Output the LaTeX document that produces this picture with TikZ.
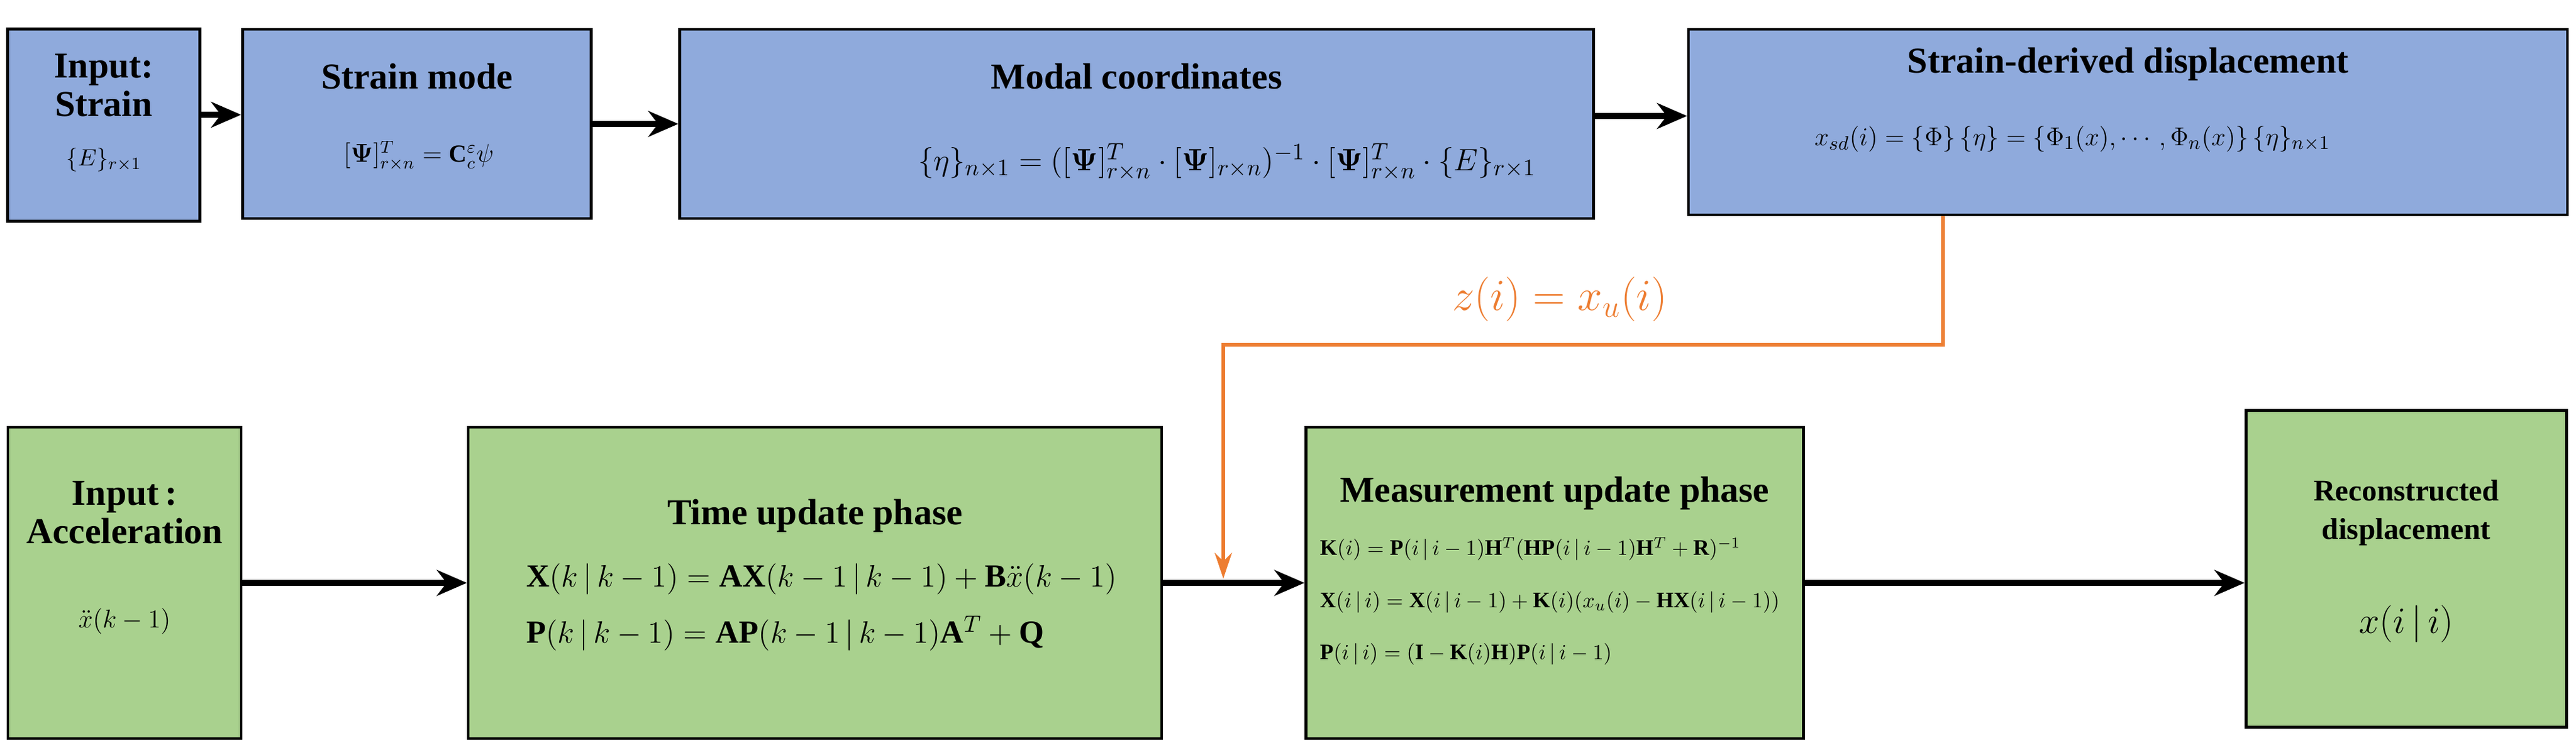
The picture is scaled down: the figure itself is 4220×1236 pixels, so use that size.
\documentclass[tikz,border=0pt]{standalone}
\usepackage{amsmath,bm}
\usepackage{fontspec}
\setmainfont{Liberation Serif}
\usetikzlibrary{arrows.meta}
\definecolor{bluef}{HTML}{8FAADC}
\definecolor{greenf}{HTML}{A9D18E}
\definecolor{orng}{HTML}{ED7D31}
\newcommand{\fs}[1]{\fontsize{#1}{#1}\selectfont}
\begin{document}
\begin{tikzpicture}[x=0.01cm,y=-0.01cm,
  box/.style={draw=black,line width=1.3pt,align=center,inner sep=0pt},
  bbox/.style={box,fill=bluef},
  gbox/.style={box,fill=greenf},
  ttl/.style={font=\bfseries\fontsize{17}{20}\selectfont,align=center},
  arr/.style={-{Stealth[length=14pt,width=12pt]},line width=2.6pt},
  oarr/.style={-{Stealth[length=12pt,width=8pt]},line width=1.6pt,draw=orng}]
\useasboundingbox (0,0) rectangle (4220,1236);
% top row
\node[bbox,minimum width=3.15cm,minimum height=3.15cm] (b1) at (170,205) {};
\node[ttl] (t1) at (170,140) {Input:\\[-2pt]Strain};
\node[font=\fs{11}] (m1) at (170,262) {$\{E\}_{r\times 1}$};
\node[bbox,minimum width=5.71cm,minimum height=3.10cm] (b2) at (683,203) {};
\node[ttl] (t2) at (683,125) {Strain mode};
\node[font=\fs{11.5}] (m2) at (686,255) {$[\boldsymbol{\Psi}]^{T}_{r\times n}=\mathbf{C}^{\varepsilon}_{c}\psi$};
\node[bbox,minimum width=14.96cm,minimum height=3.10cm] (b3) at (1862,203) {};
\node[ttl] (t3) at (1862,125) {Modal coordinates};
\node[font=\fs{15.5}] (m3) at (2010,265) {$\{\eta\}_{n\times1}=([\boldsymbol{\Psi}]^{T}_{r\times n}\cdot[\boldsymbol{\Psi}]_{r\times n})^{-1}\cdot[\boldsymbol{\Psi}]^{T}_{r\times n}\cdot\{E\}_{r\times1}$};
\node[bbox,minimum width=14.39cm,minimum height=3.04cm] (b4) at (3486,200) {};
\node[ttl] (t4) at (3486,105) {Strain-derived displacement};
\node[font=\fs{12.5}] (m4) at (3395,228) {$x_{sd}(i)=\{\Phi\}\,\{\eta\}=\{\Phi_1(x),\cdots,\Phi_n(x)\}\,\{\eta\}_{n\times1}$};
\draw[arr] (b1.east |- 0,188) -- (b2.west |- 0,188);
\draw[arr] (b2) -- (b3);
\draw[arr] (b3.east |- 0,190) -- (b4.west |- 0,190);
% bottom row
\node[gbox,minimum width=3.82cm,minimum height=5.10cm] (g1) at (204,955) {};
\node[ttl] (t5) at (204,840) {Input\,:\\[-2pt]Acceleration};
\node[font=\fs{11.5}] (m5) at (204,1018) {$\ddot{x}(k-1)$};
\node[gbox,minimum width=11.35cm,minimum height=5.10cm] (g2) at (1335,955) {};
\node[ttl] (t6) at (1335,845) {Time update phase};
\node[align=left,anchor=west,font=\fs{15}] (m6) at (850,995) {$\mathbf{X}(k\,|\,k-1)=\mathbf{A}\mathbf{X}(k-1\,|\,k-1)+\mathbf{B}\ddot{x}(k-1)$\\[9pt]$\mathbf{P}(k\,|\,k-1)=\mathbf{A}\mathbf{P}(k-1\,|\,k-1)\mathbf{A}^{T}+\mathbf{Q}$};
\node[gbox,minimum width=8.15cm,minimum height=5.10cm] (g3) at (2547,955) {};
\node[ttl] (t7) at (2547,808) {Measurement update phase};
\node[align=left,anchor=west,font=\fs{10.3}] (m7) at (2150,985) {$\mathbf{K}(i)=\mathbf{P}(i\,|\,i-1)\mathbf{H}^{T}(\mathbf{H}\mathbf{P}(i\,|\,i-1)\mathbf{H}^{T}+\mathbf{R})^{-1}$\\[14pt]$\mathbf{X}(i\,|\,i)=\mathbf{X}(i\,|\,i-1)+\mathbf{K}(i)(x_u(i)-\mathbf{H}\mathbf{X}(i\,|\,i-1))$\\[14pt]$\mathbf{P}(i\,|\,i)=(\mathbf{I}-\mathbf{K}(i)\mathbf{H})\mathbf{P}(i\,|\,i-1)$};
\node[gbox,minimum width=5.25cm,minimum height=5.19cm] (g4) at (3942,932) {};
\node[font=\bfseries\fontsize{14}{18}\selectfont,align=center] (t8) at (3942,840) {Reconstructed\\displacement};
\node[font=\fs{16}] (m8) at (3942,1022) {$x(i\,|\,i)$};
\draw[arr] (g1.east |- 0,955) -- (g2.west |- 0,955);
\draw[arr] (g2.east |- 0,955) -- (g3.west |- 0,955);
\draw[arr] (g3.east |- 0,955) -- (g4.west |- 0,955);
% orange feedback
\coordinate (c1) at (3183,565);
\coordinate (c2) at (2004,565);
\coordinate (c3) at (2004,948);
\draw[oarr] (b4.south -| c1) -- (c1) -- (c2) -- (c3);
\node[text=orng,font=\fontsize{20}{24}\selectfont] (lab) at (2555,490) {$z(i)=x_u(i)$};
\end{tikzpicture}
\end{document}
